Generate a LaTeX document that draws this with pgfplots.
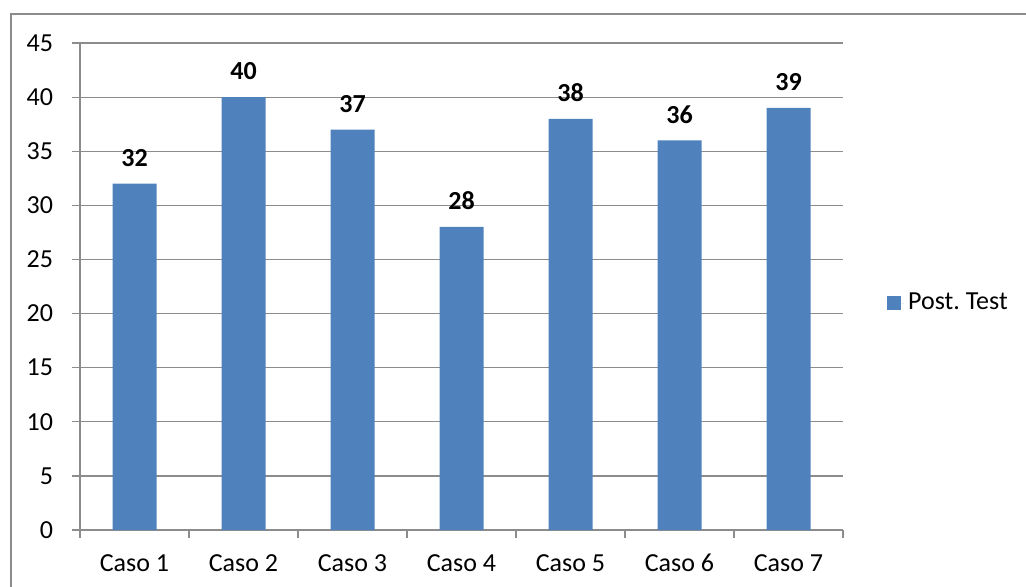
\documentclass[border=0pt]{standalone}
\usepackage{pgfplots}
\pgfplotsset{compat=1.18}
\usepackage{fontspec}
\setmainfont{Carlito}
\definecolor{barblue}{HTML}{4F81BD}
\definecolor{gridgray}{HTML}{8C8C8C}
\begin{document}
\frenchspacing
\fontsize{13}{15.6}\selectfont
\begin{tikzpicture}
\useasboundingbox (0,0) rectangle (513pt,-293pt);
\clip (0,0) rectangle (513pt,-293pt);
\draw[gridgray, line width=0.9pt] (5.5pt,-7pt) rectangle (530pt,-310pt);
\begin{axis}[
  at={(40pt,-265pt)}, anchor=south west,
  scale only axis, width=381.5pt, height=243.5pt,
  xmin=-0.5, xmax=6.5, ymin=0, ymax=45,
  axis x line*=bottom, axis y line*=left,
  axis line style={gridgray, line width=0.6pt},
  x axis line style={-}, y axis line style={-},
  ytick={0,5,...,45},
  ymajorgrids, grid style={gridgray, line width=0.6pt},
  tick align=outside,
  major tick length=4pt,
  tick style={gridgray, line width=0.6pt},
  xtick={-0.5,0.5,1.5,2.5,3.5,4.5,5.5,6.5},
  xticklabels={},
  extra x ticks={0,1,2,3,4,5,6},
  extra x tick labels={Caso 1,Caso 2,Caso 3,Caso 4,Caso 5,Caso 6,Caso 7},
  extra x tick style={tick style={draw=none}, grid=none},
  /pgf/number format/assume math mode=true,
  ticklabel style={font=\fontsize{13}{15.6}\selectfont, text=black},
  yticklabel style={xshift=-5pt},
  xticklabel style={yshift=-3pt, text height=9pt, text depth=0pt},
  ybar, bar width=22pt,
  nodes near coords,
  nodes near coords style={font=\fontsize{13}{15.6}\selectfont\bfseries, anchor=center, yshift=13pt, text=black},
  legend style={draw=none, fill=none, at={(1.0574,0.4653)}, anchor=west, inner sep=0pt, font=\fontsize{13}{15.6}\selectfont},
  legend image code/.code={\fill[#1] (0pt,-3.5pt) rectangle (7pt,3.5pt); \path (7pt,0pt) -- (8.5pt,0pt);},
]
\addplot[fill=barblue, draw=none] coordinates {(0,32) (1,40) (2,37) (3,28) (4,38) (5,36) (6,39)};
\addlegendentry{Post. Test}
\end{axis}
\end{tikzpicture}
\end{document}
